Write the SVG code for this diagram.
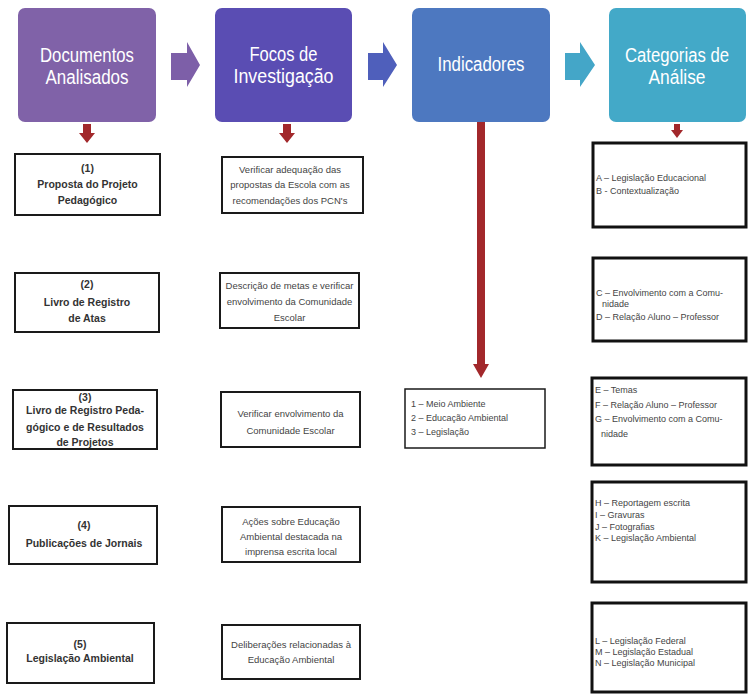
<svg xmlns="http://www.w3.org/2000/svg" width="748" height="696" viewBox="0 0 748 696">
<style>
.hd{font-family:"Liberation Sans",Arial,sans-serif;font-size:20px;fill:#ffffff;text-anchor:middle}
.bx{fill:#ffffff;stroke:#1a1a1a;stroke-width:2}
.bxr{fill:#ffffff;stroke:#111111;stroke-width:3}
.lt{font-family:"Liberation Sans",Arial,sans-serif;font-size:10.5px;font-weight:bold;fill:#333333;text-anchor:middle}
.mt{font-family:"Liberation Sans",Arial,sans-serif;font-size:9.5px;fill:#444444;text-anchor:middle}
.rt{font-family:"Liberation Sans",Arial,sans-serif;font-size:9px;fill:#444444}
.red{fill:#a2282b}
</style>
<rect width="748" height="696" fill="#ffffff"/>

<g id="h1">
<rect x="18" y="8" width="138" height="114" rx="7" fill="#8062a8"/>
<text class="hd" x="87" y="62" textLength="94" lengthAdjust="spacingAndGlyphs">Documentos</text>
<text class="hd" x="87" y="84" textLength="83" lengthAdjust="spacingAndGlyphs">Analisados</text>
</g>
<g id="h2">
<rect x="215" y="8" width="137" height="114" rx="7" fill="#5a4db3"/>
<text class="hd" x="283.5" y="61" textLength="68" lengthAdjust="spacingAndGlyphs">Focos de</text>
<text class="hd" x="283.5" y="83" textLength="100" lengthAdjust="spacingAndGlyphs">Investigação</text>
</g>
<g id="h3">
<rect x="412" y="8" width="138" height="114" rx="7" fill="#4d78c0"/>
<text class="hd" x="481" y="71" textLength="87" lengthAdjust="spacingAndGlyphs">Indicadores</text>
</g>
<g id="h4">
<rect x="609" y="8" width="137" height="114" rx="7" fill="#43a9c8"/>
<text class="hd" x="677" y="62" textLength="104" lengthAdjust="spacingAndGlyphs">Categorias de</text>
<text class="hd" x="677" y="84" textLength="57" lengthAdjust="spacingAndGlyphs">Análise</text>
</g>

<g id="connectors">
<polygon points="171,53 187,53 187,42 200,65 187,87 187,80 171,80" fill="#7d5fa8"/>
<polygon points="368,53 383,53 383,42 397,65 383,87 383,80 368,80" fill="#4f5fbb"/>
<polygon points="565,53 580,53 580,42 595,65 580,87 580,80 565,80" fill="#44a6c8"/>
<polygon class="red" points="83,124 91,124 91,133 95,133 87,143 79,133 83,133"/>
<polygon class="red" points="283,124 291,124 291,133 295,133 287,143 279,133 283,133"/>
<polygon class="red" points="674,124 680,124 680,130 683,130 677,138 671,130 674,130"/>
<polygon class="red" points="477,122 485,122 485,364 489,364 481,378 473,364 477,364"/>
</g>

<g id="l1">
<rect class="bx" x="15" y="154" width="145" height="61"/>
<text class="lt" x="87.5" y="172">(1)</text>
<text class="lt" x="87.5" y="188">Proposta do Projeto</text>
<text class="lt" x="87.5" y="204">Pedagógico</text>
</g>
<g id="l2">
<rect class="bx" x="15" y="273" width="144" height="59"/>
<text class="lt" x="87" y="288">(2)</text>
<text class="lt" x="87" y="306">Livro de Registro</text>
<text class="lt" x="87" y="322">de Atas</text>
</g>
<g id="l3">
<rect class="bx" x="13" y="390" width="144" height="59"/>
<text class="lt" x="85" y="401">(3)</text>
<text class="lt" x="85" y="414">Livro de Registro Peda-</text>
<text class="lt" x="85" y="431">gógico e de Resultados</text>
<text class="lt" x="85" y="446">de Projetos</text>
</g>
<g id="l4">
<rect class="bx" x="9" y="506" width="148" height="58"/>
<text class="lt" x="84" y="529">(4)</text>
<text class="lt" x="84" y="547">Publicações de Jornais</text>
</g>
<g id="l5">
<rect class="bx" x="7" y="623" width="147" height="60"/>
<text class="lt" x="80" y="648">(5)</text>
<text class="lt" x="80" y="662">Legislação Ambiental</text>
</g>

<g id="m1">
<rect class="bx" x="222" y="157" width="141" height="56"/>
<text class="mt" x="290" y="173">Verificar adequação das</text>
<text class="mt" x="290" y="188">propostas da Escola com as</text>
<text class="mt" x="290" y="204">recomendações dos PCN's</text>
</g>
<g id="m2">
<rect class="bx" x="220" y="273" width="139" height="55"/>
<text class="mt" x="289.5" y="289">Descrição de metas e verificar</text>
<text class="mt" x="289.5" y="305">envolvimento da Comunidade</text>
<text class="mt" x="289.5" y="321">Escolar</text>
</g>
<g id="m3">
<rect class="bx" x="221" y="392" width="139" height="55"/>
<text class="mt" x="290.5" y="417">Verificar envolvimento da</text>
<text class="mt" x="290.5" y="434">Comunidade Escolar</text>
</g>
<g id="m4">
<rect class="bx" x="222" y="507" width="138" height="55"/>
<text class="mt" x="291" y="525">Ações sobre Educação</text>
<text class="mt" x="291" y="540">Ambiental destacada na</text>
<text class="mt" x="291" y="555">imprensa escrita local</text>
</g>
<g id="m5">
<rect class="bx" x="222" y="625" width="138" height="54"/>
<text class="mt" x="291" y="648">Deliberações relacionadas à</text>
<text class="mt" x="291" y="663">Educação Ambiental</text>
</g>

<g id="ind">
<rect x="405" y="389" width="140" height="59" fill="#ffffff" stroke="#1a1a1a" stroke-width="1.5"/>
<text class="rt" x="411" y="407">1 – Meio Ambiente</text>
<text class="rt" x="411" y="421">2 – Educação Ambiental</text>
<text class="rt" x="411" y="435">3 – Legislação</text>
</g>

<g id="r1">
<rect class="bxr" x="593" y="143" width="153" height="84"/>
<text class="rt" x="596" y="181">A – Legislação Educacional</text>
<text class="rt" x="596" y="194">B - Contextualização</text>
</g>
<g id="r2">
<rect class="bxr" x="593" y="258" width="153" height="83"/>
<text class="rt" x="596" y="296">C – Envolvimento com a  Comu-</text>
<text class="rt" x="602" y="307">nidade</text>
<text class="rt" x="596" y="320">D – Relação Aluno – Professor</text>
</g>
<g id="r3">
<rect class="bxr" x="592" y="378" width="154" height="87"/>
<text class="rt" x="595" y="393">E – Temas</text>
<text class="rt" x="595" y="408">F – Relação Aluno – Professor</text>
<text class="rt" x="595" y="422">G – Envolvimento com a  Comu-</text>
<text class="rt" x="601" y="437">nidade</text>
</g>
<g id="r4">
<rect class="bxr" x="592" y="482" width="154" height="100"/>
<text class="rt" x="595" y="506">H – Reportagem escrita</text>
<text class="rt" x="595" y="518">I – Gravuras</text>
<text class="rt" x="595" y="530">J – Fotografias</text>
<text class="rt" x="595" y="541">K – Legislação Ambiental</text>
</g>
<g id="r5">
<rect class="bxr" x="592" y="603" width="154" height="89"/>
<text class="rt" x="595" y="644">L – Legislação Federal</text>
<text class="rt" x="595" y="655">M – Legislação Estadual</text>
<text class="rt" x="595" y="666">N – Legislação Municipal</text>
</g>
</svg>
